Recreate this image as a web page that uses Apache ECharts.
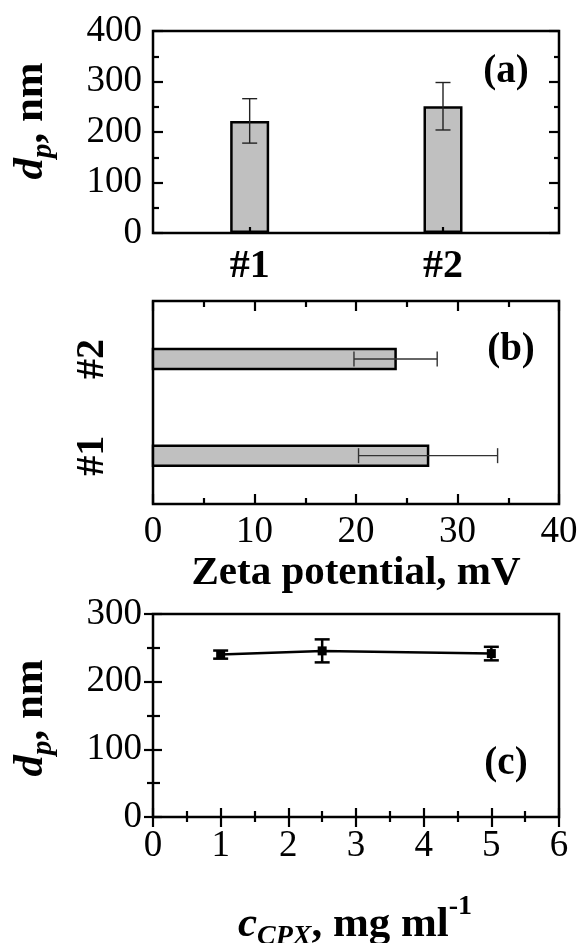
<!DOCTYPE html>
<html>
<head>
<meta charset="utf-8">
<script src="https://cdn.jsdelivr.net/npm/echarts@6/dist/echarts.min.js"></script>
<style>
  html, body { margin: 0; padding: 0; background: #fff; }
  #chart { width: 582px; height: 943px; }
</style>
</head>
<body>
<div id="chart"></div>
<script>
// Sample labels shared by panels (a) and (b)
const samples = ['#1', '#2'];

// (a) particle size per sample, nm
const sizeMean = [222, 251];
const sizeErr = [44, 47];

// (b) zeta potential per sample, mV
const zetaMean = [27.1, 23.9];
const zetaErr = [6.85, 4.1];

// (c) particle size against drug concentration
const conc = [1, 2.5, 5];           // mg/ml
const sizeByConc = [240, 245.5, 241.5];
const sizeByConcErr = [6, 17, 10];

// Tick label values
const sizeTicksA = [0, 100, 200, 300, 400];
const zetaTicks = [0, 10, 20, 30, 40];
const concTicks = [0, 1, 2, 3, 4, 5, 6];
const sizeTicksC = [0, 100, 200, 300];

const FONT = "'Liberation Serif', 'Times New Roman', serif";
const BLACK = '#000';
const FILL = '#c0c0c0';

// slot index of each sample on the (a) axis: samples sit on 1 and 3
const slotA = samples.map((_, i) => 2 * i + 1);
// slot index of each sample on the (b) axis
const slotB = samples.map((_, i) => i + 1);

const gridA = { left: 153, top: 31, width: 406, height: 202 };
const gridB = { left: 153, top: 301, width: 406, height: 203 };
const gridC = { left: 153, top: 614, width: 406, height: 203 };

function frameGrid(g) {
  return Object.assign({ show: true, borderColor: BLACK, borderWidth: 2.5,
    backgroundColor: 'transparent', containLabel: false, outerBoundsMode: 'none' }, g);
}

const tickLabel = { color: BLACK, fontFamily: FONT, fontSize: 37 };

function ticks(len, minorLen, split) {
  return {
    axisTick: { show: true, inside: true, length: len, lineStyle: { color: BLACK, width: 2.2 } },
    minorTick: { show: true, splitNumber: split, length: minorLen, lineStyle: { color: BLACK, width: 2.2 } }
  };
}

// vertical error bar: value = [x, y, err]
function vErr(width, capHalf, color) {
  return function (params, api) {
    const x = api.value(0), y = api.value(1), e = api.value(2);
    const hi = api.coord([x, y + e]);
    const lo = api.coord([x, y - e]);
    const st = { stroke: color, lineWidth: width };
    return { type: 'group', children: [
      { type: 'line', shape: { x1: hi[0], y1: hi[1], x2: lo[0], y2: lo[1] }, style: st },
      { type: 'line', shape: { x1: hi[0] - capHalf, y1: hi[1], x2: hi[0] + capHalf, y2: hi[1] }, style: st },
      { type: 'line', shape: { x1: lo[0] - capHalf, y1: lo[1], x2: lo[0] + capHalf, y2: lo[1] }, style: st }
    ]};
  };
}

// horizontal error bar: value = [x, y, err]
function hErr(width, capHalf, color) {
  return function (params, api) {
    const x = api.value(0), y = api.value(1), e = api.value(2);
    const hi = api.coord([x + e, y]);
    const lo = api.coord([x - e, y]);
    const st = { stroke: color, lineWidth: width };
    return { type: 'group', children: [
      { type: 'line', shape: { x1: lo[0], y1: lo[1], x2: hi[0], y2: hi[1] }, style: st },
      { type: 'line', shape: { x1: hi[0], y1: hi[1] - capHalf, x2: hi[0], y2: hi[1] + capHalf }, style: st },
      { type: 'line', shape: { x1: lo[0], y1: lo[1] - capHalf, x2: lo[0], y2: lo[1] + capHalf }, style: st }
    ]};
  };
}

// horizontal bar drawn from 0 to value at slot y
function hBar(thickness) {
  return function (params, api) {
    const v = api.value(0), y = api.value(1);
    const p0 = api.coord([0, y]);
    const p1 = api.coord([v, y]);
    return { type: 'rect',
      shape: { x: p0[0], y: p0[1] - thickness / 2, width: p1[0] - p0[0], height: thickness },
      style: { fill: FILL, stroke: BLACK, lineWidth: 2.5 } };
  };
}

const ytitleRich = {
  d: { fontFamily: FONT, fontSize: 43, fontStyle: 'italic', fontWeight: 'bold', color: BLACK, verticalAlign: 'top' },
  p: { fontFamily: FONT, fontSize: 29, fontStyle: 'italic', fontWeight: 'bold', color: BLACK, verticalAlign: 'top', padding: [20, 0, 0, 0] },
  r: { fontFamily: FONT, fontSize: 43, fontWeight: 'bold', color: BLACK, verticalAlign: 'top' }
};

const chart = echarts.init(document.getElementById('chart'), null, { renderer: 'canvas' });

chart.setOption({
  backgroundColor: '#fff',
  animation: false,
  grid: [frameGrid(gridA), frameGrid(gridB), frameGrid(gridC)],
  xAxis: [
    // 0: (a) bottom, sample labels
    Object.assign({ type: 'value', gridIndex: 0, min: 0, max: 4.2, z: 10,
      axisLine: { show: false }, splitLine: { show: false },
      axisTick: { show: true, inside: true, length: 6, customValues: slotA, lineStyle: { color: BLACK, width: 2.2 } },
      axisLabel: Object.assign({}, tickLabel, { fontSize: 40, fontWeight: 'bold', margin: 14, customValues: slotA,
        formatter: v => { const i = slotA.indexOf(v); return i >= 0 ? samples[i] : ''; } })
    }),
    // 1: (b) bottom
    Object.assign({ type: 'value', gridIndex: 1, min: 0, max: 40, interval: 10, z: 10,
      axisLine: { show: false }, splitLine: { show: false },
      axisLabel: Object.assign({}, tickLabel, { margin: 10, customValues: zetaTicks })
    }, ticks(10, 6, 2)),
    // 2: (b) top mirror
    Object.assign({ type: 'value', gridIndex: 1, position: 'top', min: 0, max: 40, interval: 10, z: 10,
      axisLine: { show: false }, splitLine: { show: false }, axisLabel: { show: false }
    }, ticks(10, 6, 2)),
    // 3: (c) bottom
    Object.assign({ type: 'value', gridIndex: 2, min: 0, max: 6, interval: 1, z: 10,
      axisLine: { show: false }, splitLine: { show: false },
      axisLabel: Object.assign({}, tickLabel, { margin: 11, customValues: concTicks })
    }, ticks(9, 6, 2)),
    // 4: (c) top mirror
    Object.assign({ type: 'value', gridIndex: 2, position: 'top', min: 0, max: 6, interval: 1, z: 10,
      axisLine: { show: false }, splitLine: { show: false }, axisLabel: { show: false }
    }, ticks(10, 5, 2))
  ],
  yAxis: [
    // 0: (a) left
    Object.assign({ type: 'value', gridIndex: 0, min: 0, max: 400, interval: 100, z: 10,
      axisLine: { show: false }, splitLine: { show: false },
      axisLabel: Object.assign({}, tickLabel, { margin: 11, customValues: sizeTicksA })
    }, ticks(10, 6, 2)),
    // 1: (a) right mirror
    Object.assign({ type: 'value', gridIndex: 0, position: 'right', min: 0, max: 400, interval: 100, z: 10,
      axisLine: { show: false }, splitLine: { show: false }, axisLabel: { show: false }
    }, ticks(10, 5, 2)),
    // 2: (b) left, sample labels
    { type: 'value', gridIndex: 1, min: 0.5, max: 2.6, z: 10,
      axisLine: { show: false }, splitLine: { show: false }, axisTick: { show: false },
      axisLabel: Object.assign({}, tickLabel, { fontSize: 40, fontWeight: 'bold', rotate: 90, margin: 40, customValues: slotB,
        formatter: v => { const i = slotB.indexOf(v); return i >= 0 ? samples[i] : ''; } })
    },
    // 3: (c) left
    Object.assign({ type: 'value', gridIndex: 2, min: 0, max: 300, interval: 100, z: 10,
      axisLine: { show: false }, splitLine: { show: false },
      axisLabel: Object.assign({}, tickLabel, { margin: 11, customValues: sizeTicksC })
    }, ticks(9, 7, 2)),
    // 4: (c) right mirror
    Object.assign({ type: 'value', gridIndex: 2, position: 'right', min: 0, max: 300, interval: 100, z: 10,
      axisLine: { show: false }, splitLine: { show: false }, axisLabel: { show: false }
    }, ticks(9, 6, 2))
  ],
  series: [
    { type: 'bar', xAxisIndex: 0, yAxisIndex: 0, barWidth: 39,
      data: sizeMean.map((v, i) => [slotA[i], v]),
      itemStyle: { color: FILL, borderColor: BLACK, borderWidth: 2.5 }, silent: true },
    { type: 'custom', xAxisIndex: 0, yAxisIndex: 0, z: 5,
      encode: { x: 0, y: 1 },
      data: sizeMean.map((v, i) => [slotA[i], v, sizeErr[i]]),
      renderItem: vErr(1.4, 7.5, '#222') },
    { type: 'custom', xAxisIndex: 1, yAxisIndex: 2,
      encode: { x: 0, y: 1 },
      data: zetaMean.map((v, i) => [v, slotB[i]]),
      renderItem: hBar(20) },
    { type: 'custom', xAxisIndex: 1, yAxisIndex: 2, z: 5,
      encode: { x: 0, y: 1 },
      data: zetaMean.map((v, i) => [v, slotB[i], zetaErr[i]]),
      renderItem: hErr(1.4, 7.5, '#333') },
    { type: 'line', xAxisIndex: 3, yAxisIndex: 3,
      data: conc.map((c, i) => [c, sizeByConc[i]]),
      symbol: 'rect', symbolSize: 9, showSymbol: true,
      itemStyle: { color: BLACK },
      lineStyle: { color: BLACK, width: 2.5 } },
    { type: 'custom', xAxisIndex: 3, yAxisIndex: 3, z: 5,
      encode: { x: 0, y: 1 },
      data: conc.map((c, i) => [c, sizeByConc[i], sizeByConcErr[i]]),
      renderItem: vErr(2.5, 7.5, BLACK) }
  ],
  graphic: [
    { type: 'text', x: 506, y: 72, z: 20,
      style: { text: '(a)', fontFamily: FONT, fontSize: 39, fontWeight: 'bold', fill: BLACK, align: 'center', verticalAlign: 'middle' } },
    { type: 'text', x: 511, y: 350, z: 20,
      style: { text: '(b)', fontFamily: FONT, fontSize: 39, fontWeight: 'bold', fill: BLACK, align: 'center', verticalAlign: 'middle' } },
    { type: 'text', x: 506, y: 764, z: 20,
      style: { text: '(c)', fontFamily: FONT, fontSize: 39, fontWeight: 'bold', fill: BLACK, align: 'center', verticalAlign: 'middle' } },
    { type: 'text', x: 34, y: 121, rotation: Math.PI / 2, z: 20,
      style: { text: '{d|d}{p|p}{r|, nm}', rich: ytitleRich, align: 'center', verticalAlign: 'middle' } },
    { type: 'text', x: 34, y: 718, rotation: Math.PI / 2, z: 20,
      style: { text: '{d|d}{p|p}{r|, nm}', rich: ytitleRich, align: 'center', verticalAlign: 'middle' } },
    { type: 'text', x: 356, y: 573, z: 20,
      style: { text: 'Zeta potential, mV', fontFamily: FONT, fontSize: 41, fontWeight: 'bold', fill: BLACK, align: 'center', verticalAlign: 'middle' } },
    { type: 'text', x: 355, y: 922, z: 20,
      style: { text: '{c|c}{s|CPX}{r|, mg ml}{u|-1}', align: 'center', verticalAlign: 'middle',
        rich: {
          c: { fontFamily: FONT, fontSize: 43, fontStyle: 'italic', fontWeight: 'bold', fill: BLACK, verticalAlign: 'top', padding: [10, 0, 0, 0] },
          s: { fontFamily: FONT, fontSize: 28, fontStyle: 'italic', fontWeight: 'bold', fill: BLACK, verticalAlign: 'top', padding: [30, 0, 0, 0] },
          r: { fontFamily: FONT, fontSize: 43, fontWeight: 'bold', fill: BLACK, verticalAlign: 'top', padding: [10, 0, 0, 0] },
          u: { fontFamily: FONT, fontSize: 28, fontWeight: 'bold', fill: BLACK, verticalAlign: 'top', padding: [0, 0, 0, 0] }
        } } }
  ]
});
</script>
</body>
</html>
